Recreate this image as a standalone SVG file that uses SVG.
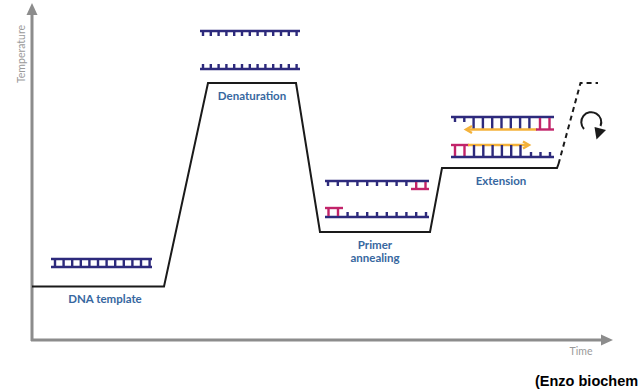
<svg xmlns="http://www.w3.org/2000/svg" width="641" height="390" viewBox="0 0 641 390">
  <style>
    .axis { stroke: #8c8c8c; stroke-width: 3; fill: none; }
    .axis-label { font-family: Lato, "Open Sans", sans-serif; font-size: 10.5px; fill: #9a9a9a; }
    .stage { font-family: Lato, "Open Sans", sans-serif; font-size: 11.5px; font-weight: bold; fill: #3767a0; text-anchor: middle; }
    .temp { stroke: #1a1a1a; stroke-width: 2; fill: none; stroke-linejoin: miter; }
    .dash { stroke: #1a1a1a; stroke-width: 2; fill: none; stroke-dasharray: 5 4; }
    .navy { stroke: #2d2a7c; stroke-width: 2.4; fill: none; }
    .pink { stroke: #c2246a; stroke-width: 2.4; fill: none; }
    .orange { stroke: #f4b23a; stroke-width: 2.4; fill: none; }
    .credit { font-family: "Liberation Sans", Arial, sans-serif; font-size: 14.5px; font-weight: bold; fill: #000; }
  </style>

  <rect width="641" height="390" fill="#ffffff"/>

  <!-- axes -->
  <g id="axes">
    <line class="axis" x1="32" y1="341" x2="32" y2="14"/>
    <polygon points="32,3 26.5,15 37.5,15" fill="#8c8c8c"/>
    <line class="axis" x1="31" y1="340" x2="601" y2="340"/>
    <polygon points="613,340 601,334.5 601,345.5" fill="#8c8c8c"/>
    <text class="axis-label" transform="translate(24.5,54) rotate(-90)" text-anchor="middle">Temperature</text>
    <text class="axis-label" x="581" y="355" text-anchor="middle">Time</text>
  </g>

  <!-- temperature profile -->
  <g id="connectors">
    <path class="temp" d="M32,286.5 H164 L208,83 H296 L320,232 H430 L442,168 H557 L558.5,164"/>
    <path class="dash" d="M558.5,164 L580.5,83 H598"/>
    <path d="M584,129 A10,10 0 1 1 600.5,126" stroke="#1a1a1a" stroke-width="2" fill="none"/>
    <polygon points="596.5,139.5 594.5,127 606,130" fill="#1a1a1a"/>
  </g>

  <!-- DNA template: double strand -->
  <g id="dna-template">
    <line class="navy" x1="51" y1="259" x2="152" y2="259"/>
    <line class="navy" x1="51" y1="267" x2="152" y2="267"/>
    <path class="navy" stroke-width="2.8" d="M55,259V267 M63.6,259V267 M72.2,259V267 M80.8,259V267 M89.4,259V267 M98,259V267 M106.6,259V267 M115.2,259V267 M123.8,259V267 M132.4,259V267 M141,259V267 M149.6,259V267"/>
    <text class="stage" x="105" y="303">DNA template</text>
  </g>

  <!-- Denaturation: separated strands -->
  <g id="denaturation">
    <line class="navy" x1="200" y1="31" x2="300" y2="31"/>
    <path class="navy" stroke-width="2" d="M203,31V36 M210.8,31V36 M218.6,31V36 M226.4,31V36 M234.2,31V36 M242,31V36 M249.8,31V36 M257.6,31V36 M265.4,31V36 M273.2,31V36 M281,31V36 M288.8,31V36 M296.6,31V36"/>
    <line class="navy" x1="200" y1="69" x2="300" y2="69"/>
    <path class="navy" stroke-width="2" d="M203,69V64 M210.8,69V64 M218.6,69V64 M226.4,69V64 M234.2,69V64 M242,69V64 M249.8,69V64 M257.6,69V64 M265.4,69V64 M273.2,69V64 M281,69V64 M288.8,69V64 M296.6,69V64"/>
    <text class="stage" x="252" y="100">Denaturation</text>
  </g>

  <!-- Primer annealing -->
  <g id="primer-annealing">
    <line class="navy" x1="325" y1="181" x2="429" y2="181"/>
    <path class="navy" stroke-width="2" d="M328,181V186 M337.8,181V186 M347.6,181V186 M357.4,181V186 M367.2,181V186 M377,181V186 M386.8,181V186 M396.6,181V186 M406.4,181V186"/>
    <path class="pink" stroke-width="2.2" d="M416.2,182V189 M425.5,182V189"/>
    <line class="pink" x1="411" y1="189" x2="429" y2="189"/>

    <line class="navy" x1="325" y1="217" x2="429" y2="217"/>
    <path class="pink" stroke-width="2.2" d="M328.5,208V216 M338,208V216"/>
    <line class="pink" x1="325" y1="208" x2="343" y2="208"/>
    <path class="navy" stroke-width="2" d="M347.6,217V212 M357.4,217V212 M367.2,217V212 M377,217V212 M386.8,217V212 M396.6,217V212 M406.4,217V212 M416.2,217V212 M426,217V212"/>
    <text class="stage" x="375" y="249">Primer</text>
    <text class="stage" x="375" y="262">annealing</text>
  </g>

  <!-- Extension -->
  <g id="extension">
    <!-- upper duplex -->
    <line class="navy" x1="451" y1="117" x2="554" y2="117"/>
    <path class="navy" stroke-width="2" d="M455,117V122 M464.3,117V122"/>
    <path class="navy" stroke-width="2.4" d="M473.6,117V129 M482.9,117V129 M492.2,117V129 M501.5,117V129 M510.8,117V129 M520.1,117V129 M529.4,117V129"/>
    <path class="pink" stroke-width="2.2" d="M540,118V129 M549.5,118V129"/>
    <line class="orange" x1="468" y1="129.5" x2="537" y2="129.5"/>
    <polyline class="orange" stroke-width="1.8" points="472,126 466,129.5 472,133"/>
    <line class="pink" x1="536" y1="129.5" x2="554" y2="129.5"/>

    <!-- lower duplex -->
    <line class="pink" x1="451" y1="145" x2="469" y2="145"/>
    <path class="pink" stroke-width="2.2" d="M455,146V156 M464.5,146V156"/>
    <line class="orange" x1="468" y1="145" x2="527" y2="145"/>
    <polyline class="orange" stroke-width="1.8" points="523,141.5 529,145 523,148.5"/>
    <path class="navy" stroke-width="2.4" d="M474,145V157 M483.3,145V157 M492.6,145V157 M501.9,145V157 M511.2,145V157 M520.5,145V157"/>
    <path class="navy" stroke-width="2" d="M531,157V152 M540.5,157V152 M550,157V152"/>
    <line class="navy" x1="451" y1="157" x2="554" y2="157"/>
    <text class="stage" x="501" y="185">Extension</text>
  </g>

  <text class="credit" x="535" y="386">(Enzo biochem</text>
</svg>
